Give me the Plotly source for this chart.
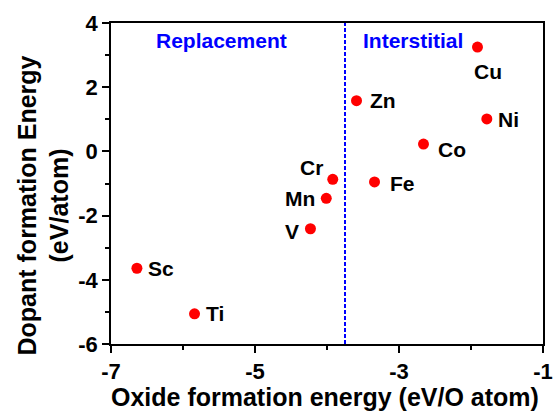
import plotly.graph_objects as go

# Dopant elements and their energies
elements = ["Sc", "Ti", "V", "Mn", "Cr", "Fe", "Co", "Ni", "Zn", "Cu"]
oxide_energy = [-6.64, -5.84, -4.23, -4.01, -3.92, -3.34, -2.66, -1.78, -3.59, -1.91]
dopant_energy = [-3.64, -5.06, -2.41, -1.46, -0.87, -0.95, 0.23, 1.01, 1.58, 3.25]

# Boundary between replacement and interstitial regimes
boundary_x = -3.75

x_tickvals = [-7, -5, -3, -1]
x_ticktext = ["-7", "-5", "-3", "-1"]
y_tickvals = [-6, -4, -2, 0, 2, 4]
y_ticktext = ["-6", "-4", "-2", "0", "2", "4"]

FONT = "Liberation Sans, Arial, sans-serif"

# label placement per element: (xanchor, xshift, yshift) in pixels
label_style = {
    "Sc": ("left", 9, 0),
    "Ti": ("left", 9, 0),
    "V": ("right", -9, -3),
    "Mn": ("right", -9, 0),
    "Cr": ("right", -8, 12),
    "Fe": ("left", 13, -2),
    "Co": ("left", 13, -5),
    "Ni": ("left", 9, -1),
    "Zn": ("left", 11, 0),
    "Cu": ("center", 11, -24),
}

fig = go.Figure()
fig.add_trace(go.Scatter(
    x=oxide_energy, y=dopant_energy, mode="markers",
    marker=dict(color="#ff0000", size=11, line=dict(width=0)),
    hoverinfo="text", text=elements, showlegend=False,
))

annotations = []
for name, xv, yv in zip(elements, oxide_energy, dopant_energy):
    anchor, dx, dy = label_style[name]
    annotations.append(dict(
        x=xv, y=yv, xref="x", yref="y", text=name, showarrow=False,
        xanchor=anchor, yanchor="middle", xshift=dx, yshift=dy,
        font=dict(family=FONT, size=21, color="black", weight="bold"),
    ))

# regime labels
for txt, xv in [("Replacement", -5.46), ("Interstitial", -2.80)]:
    annotations.append(dict(
        x=xv, y=3.45, xref="x", yref="y", text=txt, showarrow=False,
        xanchor="center", yanchor="middle",
        font=dict(family=FONT, size=21, color="#0000ff", weight="bold"),
    ))

# axis titles
annotations.append(dict(
    x=0.5, y=0, xref="paper", yref="paper", yanchor="middle", xanchor="center",
    yshift=-53, xshift=-2, showarrow=False,
    text="Oxide formation energy (eV/O atom)",
    font=dict(family=FONT, size=25, color="black", weight="bold"),
))
annotations.append(dict(
    x=0, y=0.5, xref="paper", yref="paper", xanchor="center", yanchor="middle",
    xshift=-68, yshift=-22, showarrow=False, textangle=-90,
    text="Dopant formation Energy<br>(eV/atom)",
    font=dict(family=FONT, size=25, color="black", weight="bold"),
))

fig.add_shape(
    type="line", x0=boundary_x, x1=boundary_x, y0=0, y1=1,
    xref="x", yref="paper",
    line=dict(color="#0000ff", width=2, dash="4px,2px"),
)

axis_common = dict(
    showgrid=False, zeroline=False, showline=True, linecolor="black",
    linewidth=1.5, mirror=True, ticks="outside", tickcolor="black",
    tickwidth=1.5, ticklen=7, automargin=False,
    tickfont=dict(family=FONT, size=22, color="black", weight="bold"),
)

fig.update_xaxes(
    range=[-7, -1], tickmode="array", tickvals=x_tickvals, ticktext=x_ticktext,
    minor=dict(ticks="outside", tick0=-7, dtick=1, ticklen=4, tickwidth=1.5,
               tickcolor="black"),
    **axis_common,
)
fig.update_yaxes(
    range=[-6, 4], tickmode="array", tickvals=y_tickvals, ticktext=y_ticktext,
    minor=dict(ticks="outside", tick0=-6, dtick=1, ticklen=4, tickwidth=1.5,
               tickcolor="black"),
    **axis_common,
)

fig.update_layout(
    width=553, height=412,
    margin=dict(l=111, r=10, t=23, b=68),
    paper_bgcolor="white", plot_bgcolor="white",
    annotations=annotations,
)

fig.write_html("out.html")
